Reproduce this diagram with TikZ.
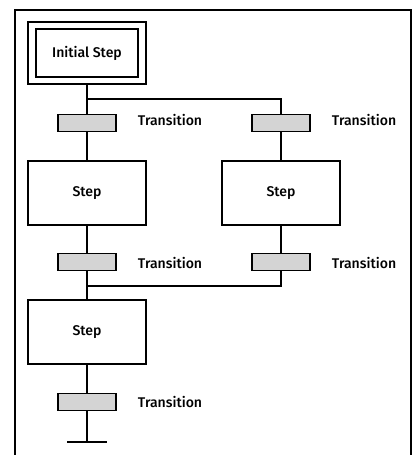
\documentclass[tikz,border=0pt]{standalone}
\usepackage{fontspec}
\setmainfont{Fira Sans}[BoldFont={Fira Sans Medium}]
\usepackage{xcolor}
\usetikzlibrary{positioning}
\definecolor{bargray}{RGB}{212,212,212}

\begin{document}
\begin{tikzpicture}[x=0.02cm, y=-0.02cm, line width=1.1pt,
  font=\fontsize{8}{10}\selectfont\bfseries,
  stepbox/.style={draw, minimum width=2.36cm, minimum height=1.28cm, inner sep=0pt},
  initbox/.style={draw, minimum width=2.04cm, minimum height=0.96cm, inner sep=0pt},
  bar/.style={draw, fill=bargray, minimum width=1.16cm, minimum height=0.34cm, inner sep=0pt},
  lbl/.style={anchor=west, inner sep=0pt}]
  \useasboundingbox (0,0) rectangle (417,455);
  % Frame (open at the bottom)
  \draw (15,455) -- (15,10) -- (411,10) -- (411,455);
  % Initial step
  \node[initbox] (init) at (87,53) {Initial Step};
  \node[draw, minimum width=2.36cm, minimum height=1.24cm] (initout) at (init) {};
  % Steps
  \node[stepbox] (s1) at (87,193) {Step};
  \node[stepbox] (s2) at (281,193) {Step};
  \node[stepbox] (s3) at (87,332) {Step};
  % Transitions
  \node[bar] (t1) at (87,123) {};
  \node[bar] (t2) at (281,123) {};
  \node[bar] (t3) at (87,262) {};
  \node[bar] (t4) at (281,262) {};
  \node[bar] (t5) at (87,402) {};
  \node[lbl] (l1) at (137,120) {Transition};
  \node[lbl] (l2) at (331,120) {Transition};
  \node[lbl] (l3) at (137,263) {Transition};
  \node[lbl] (l4) at (331,263) {Transition};
  \node[lbl] (l5) at (137,402) {Transition};
  % Branch and merge points
  \coordinate (split) at (87,99);
  \coordinate (join) at (87,286);
  \coordinate (stop) at (87,442);
  % Connectors
  \draw (initout) -- (t1);
  \draw (t1) -- (s1);
  \draw (s1) -- (t3);
  \draw (t3) -- (s3);
  \draw (s3) -- (t5);
  \draw (t5) -- (stop);
  \draw (split) -| (t2.north);
  \draw (t2) -- (s2);
  \draw (s2) -- (t4);
  \draw (t4.south) |- (join);
  \draw (67,442) -- (107,442);
\end{tikzpicture}
\end{document}
